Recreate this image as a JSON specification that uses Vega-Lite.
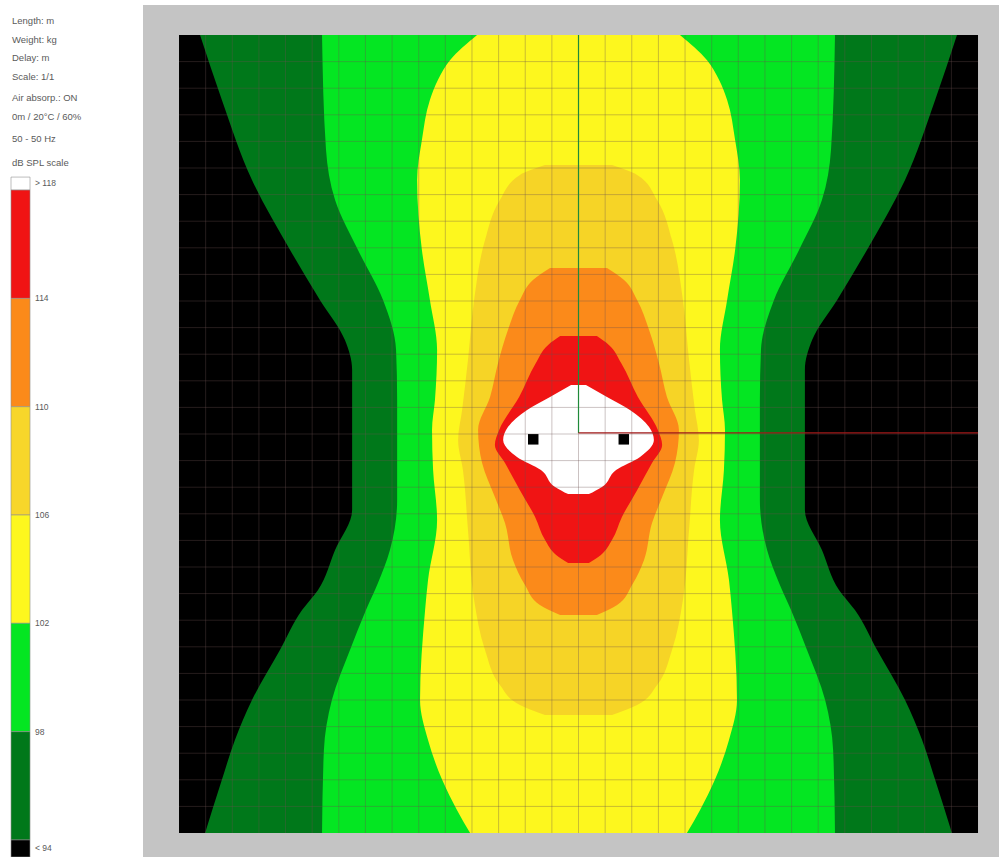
{
  "$schema": "https://vega.github.io/schema/vega-lite/v6.json",
  "padding": 0,
  "background": "#ffffff",
  "spacing": 0,
  "config": {"view": {"stroke": null}, "axis": {"disable": true}, "concat": {"spacing": 0}},
  "datasets": {
    "bands": [
      {"level": "g94", "y": 0, "xl": 0.79, "xr": 29.21},
      {"level": "g94", "y": 2.44, "xl": 1.61, "xr": 28.39},
      {"level": "g94", "y": 5.45, "xl": 2.74, "xr": 27.26},
      {"level": "g94", "y": 8.08, "xl": 4.17, "xr": 25.83},
      {"level": "g94", "y": 9.96, "xl": 5.29, "xr": 24.71},
      {"level": "g94", "y": 11.47, "xl": 6.23, "xr": 23.77},
      {"level": "g94", "y": 12.59, "xl": 6.5, "xr": 23.5},
      {"level": "g94", "y": 17.86, "xl": 6.5, "xr": 23.5},
      {"level": "g94", "y": 19.36, "xl": 5.86, "xr": 24.14},
      {"level": "g94", "y": 20.86, "xl": 5.22, "xr": 24.78},
      {"level": "g94", "y": 21.62, "xl": 4.62, "xr": 25.38},
      {"level": "g94", "y": 23.12, "xl": 3.79, "xr": 26.21},
      {"level": "g94", "y": 25.0, "xl": 2.74, "xr": 27.26},
      {"level": "g94", "y": 26.5, "xl": 2.1, "xr": 27.9},
      {"level": "g94", "y": 28.0, "xl": 1.61, "xr": 28.39},
      {"level": "g94", "y": 30, "xl": 0.98, "xr": 29.02},

      {"level": "g98", "y": 0, "xl": 5.37, "xr": 24.63},
      {"level": "g98", "y": 4.32, "xl": 5.52, "xr": 24.48},
      {"level": "g98", "y": 6.2, "xl": 5.86, "xr": 24.14},
      {"level": "g98", "y": 8.08, "xl": 6.72, "xr": 23.28},
      {"level": "g98", "y": 9.96, "xl": 7.66, "xr": 22.34},
      {"level": "g98", "y": 11.84, "xl": 8.15, "xr": 21.85},
      {"level": "g98", "y": 13.72, "xl": 8.19, "xr": 21.81},
      {"level": "g98", "y": 17.48, "xl": 8.19, "xr": 21.81},
      {"level": "g98", "y": 19.36, "xl": 7.92, "xr": 22.08},
      {"level": "g98", "y": 20.6, "xl": 7.47, "xr": 22.53},
      {"level": "g98", "y": 21.62, "xl": 7.02, "xr": 22.98},
      {"level": "g98", "y": 23.12, "xl": 6.42, "xr": 23.58},
      {"level": "g98", "y": 25.0, "xl": 5.74, "xr": 24.26},
      {"level": "g98", "y": 26.88, "xl": 5.44, "xr": 24.56},
      {"level": "g98", "y": 30, "xl": 5.37, "xr": 24.63},

      {"level": "g102", "y": 0, "xl": 11.19, "xr": 18.81},
      {"level": "g102", "y": 0.94, "xl": 10.18, "xr": 19.82},
      {"level": "g102", "y": 1.69, "xl": 9.72, "xr": 20.28},
      {"level": "g102", "y": 2.44, "xl": 9.42, "xr": 20.58},
      {"level": "g102", "y": 3.95, "xl": 9.12, "xr": 20.88},
      {"level": "g102", "y": 5.45, "xl": 8.94, "xr": 21.06},
      {"level": "g102", "y": 8.08, "xl": 9.12, "xr": 20.88},
      {"level": "g102", "y": 9.96, "xl": 9.42, "xr": 20.58},
      {"level": "g102", "y": 11.84, "xl": 9.69, "xr": 20.31},
      {"level": "g102", "y": 13.72, "xl": 9.61, "xr": 20.39},
      {"level": "g102", "y": 14.85, "xl": 9.5, "xr": 20.5},
      {"level": "g102", "y": 16.35, "xl": 9.54, "xr": 20.46},
      {"level": "g102", "y": 18.23, "xl": 9.69, "xr": 20.31},
      {"level": "g102", "y": 20.49, "xl": 9.35, "xr": 20.65},
      {"level": "g102", "y": 21.62, "xl": 9.24, "xr": 20.76},
      {"level": "g102", "y": 25.0, "xl": 9.05, "xr": 20.95},
      {"level": "g102", "y": 26.5, "xl": 9.35, "xr": 20.65},
      {"level": "g102", "y": 28.0, "xl": 9.88, "xr": 20.12},
      {"level": "g102", "y": 29.14, "xl": 10.44, "xr": 19.56},
      {"level": "g102", "y": 30, "xl": 10.93, "xr": 19.07},

      {"level": "g106", "y": 4.89, "xl": 13.74, "xr": 16.26},
      {"level": "g106", "y": 5.26, "xl": 12.8, "xr": 17.2},
      {"level": "g106", "y": 6.2, "xl": 12.05, "xr": 17.95},
      {"level": "g106", "y": 7.71, "xl": 11.49, "xr": 18.51},
      {"level": "g106", "y": 9.96, "xl": 11.08, "xr": 18.92},
      {"level": "g106", "y": 12.22, "xl": 10.85, "xr": 19.15},
      {"level": "g106", "y": 14.1, "xl": 10.63, "xr": 19.37},
      {"level": "g106", "y": 15.23, "xl": 10.48, "xr": 19.52},
      {"level": "g106", "y": 16.35, "xl": 10.66, "xr": 19.34},
      {"level": "g106", "y": 18.61, "xl": 10.85, "xr": 19.15},
      {"level": "g106", "y": 21.24, "xl": 11.08, "xr": 18.92},
      {"level": "g106", "y": 23.12, "xl": 11.49, "xr": 18.51},
      {"level": "g106", "y": 24.44, "xl": 12.05, "xr": 17.95},
      {"level": "g106", "y": 25.19, "xl": 12.8, "xr": 17.2},
      {"level": "g106", "y": 25.56, "xl": 13.74, "xr": 16.26},

      {"level": "g110", "y": 8.76, "xl": 13.93, "xr": 16.07},
      {"level": "g110", "y": 9.21, "xl": 13.29, "xr": 16.71},
      {"level": "g110", "y": 9.96, "xl": 12.8, "xr": 17.2},
      {"level": "g110", "y": 11.09, "xl": 12.35, "xr": 17.65},
      {"level": "g110", "y": 12.33, "xl": 11.98, "xr": 18.02},
      {"level": "g110", "y": 13.61, "xl": 11.68, "xr": 18.32},
      {"level": "g110", "y": 14.85, "xl": 11.23, "xr": 18.77},
      {"level": "g110", "y": 16.09, "xl": 11.38, "xr": 18.62},
      {"level": "g110", "y": 17.37, "xl": 11.86, "xr": 18.14},
      {"level": "g110", "y": 18.35, "xl": 12.24, "xr": 17.76},
      {"level": "g110", "y": 19.74, "xl": 12.54, "xr": 17.46},
      {"level": "g110", "y": 20.68, "xl": 12.99, "xr": 17.01},
      {"level": "g110", "y": 21.43, "xl": 13.55, "xr": 16.45},
      {"level": "g110", "y": 21.8, "xl": 14.31, "xr": 15.69},

      {"level": "g114", "y": 11.32, "xl": 14.31, "xr": 15.69},
      {"level": "g114", "y": 11.65, "xl": 13.86, "xr": 16.14},
      {"level": "g114", "y": 12.33, "xl": 13.4, "xr": 16.6},
      {"level": "g114", "y": 13.61, "xl": 12.77, "xr": 17.23},
      {"level": "g114", "y": 14.85, "xl": 12.02, "xr": 17.98},
      {"level": "g114", "y": 15.41, "xl": 11.86, "xr": 18.14},
      {"level": "g114", "y": 16.09, "xl": 12.24, "xr": 17.76},
      {"level": "g114", "y": 17.11, "xl": 12.8, "xr": 17.2},
      {"level": "g114", "y": 18.12, "xl": 13.37, "xr": 16.63},
      {"level": "g114", "y": 18.98, "xl": 13.74, "xr": 16.26},
      {"level": "g114", "y": 19.55, "xl": 14.16, "xr": 15.84},
      {"level": "g114", "y": 19.85, "xl": 14.61, "xr": 15.39},

      {"level": "g118", "y": 13.16, "xl": 14.72, "xr": 15.28},
      {"level": "g118", "y": 13.61, "xl": 13.93, "xr": 16.07},
      {"level": "g118", "y": 14.1, "xl": 13.07, "xr": 16.93},
      {"level": "g118", "y": 14.74, "xl": 12.35, "xr": 17.65},
      {"level": "g118", "y": 15.23, "xl": 12.17, "xr": 17.83},
      {"level": "g118", "y": 15.86, "xl": 12.69, "xr": 17.31},
      {"level": "g118", "y": 16.35, "xl": 13.59, "xr": 16.41},
      {"level": "g118", "y": 16.99, "xl": 14.12, "xr": 15.88},
      {"level": "g118", "y": 17.26, "xl": 14.61, "xr": 15.39}
    ],
    "grid": [
      {"v": 1}, {"v": 2}, {"v": 3}, {"v": 4}, {"v": 5}, {"v": 6}, {"v": 7}, {"v": 8}, {"v": 9}, {"v": 10},
      {"v": 11}, {"v": 12}, {"v": 13}, {"v": 14}, {"v": 15}, {"v": 16}, {"v": 17}, {"v": 18}, {"v": 19}, {"v": 20},
      {"v": 21}, {"v": 22}, {"v": 23}, {"v": 24}, {"v": 25}, {"v": 26}, {"v": 27}, {"v": 28}, {"v": 29}
    ],
    "sources": [{"x": 13.3, "y": 15.2}, {"x": 16.7, "y": 15.2}],
    "scaleBands": [
      {"band": "g118", "lo": 118, "hi": 118.48},
      {"band": "g114", "lo": 114, "hi": 118},
      {"band": "g110", "lo": 110, "hi": 114},
      {"band": "g106", "lo": 106, "hi": 110},
      {"band": "g102", "lo": 102, "hi": 106},
      {"band": "g98", "lo": 98, "hi": 102},
      {"band": "g94", "lo": 94, "hi": 98},
      {"band": "g0", "lo": 93.37, "hi": 94}
    ],
    "scaleLabels": [
      {"t": "> 118", "db": 118.26},
      {"t": "114", "db": 114},
      {"t": "110", "db": 110},
      {"t": "106", "db": 106},
      {"t": "102", "db": 102},
      {"t": "98", "db": 98},
      {"t": "< 94", "db": 93.71}
    ],
    "info": [
      {"t": "Length: m", "line": 1.17},
      {"t": "Weight: kg", "line": 2.22},
      {"t": "Delay: m", "line": 3.22},
      {"t": "Scale: 1/1", "line": 4.28},
      {"t": "Air absorp.: ON", "line": 5.44},
      {"t": "0m / 20°C / 60%", "line": 6.5},
      {"t": "50 - 50 Hz", "line": 7.72},
      {"t": "dB SPL scale", "line": 9.06}
    ]
  },
  "hconcat": [
    {
      "width": 143,
      "height": 857,
      "resolve": {"scale": {"y": "independent"}},
      "layer": [
        {
          "data": {"name": "scaleBands"},
          "mark": {"type": "rect", "stroke": "#909090", "strokeWidth": 0.6},
          "encoding": {
            "x": {"datum": 7.7, "type": "quantitative", "scale": {"domain": [0, 100], "nice": false, "zero": false}},
            "x2": {"datum": 21},
            "y": {"field": "lo", "type": "quantitative", "scale": {"domain": [93.37, 125.02], "nice": false, "zero": false}},
            "y2": {"field": "hi"},
            "color": {"field": "band", "type": "nominal", "legend": null,
              "scale": {"domain": ["g118", "g114", "g110", "g106", "g102", "g98", "g94", "g0"],
                        "range": ["#ffffff", "#f01414", "#fb8a1a", "#f7d62a", "#fdf71e", "#04e622", "#00781a", "#000000"]}}
          }
        },
        {
          "data": {"name": "scaleLabels"},
          "mark": {"type": "text", "align": "left", "baseline": "middle", "font": "Liberation Sans", "fontSize": 8.5, "color": "#5a5a5a"},
          "encoding": {
            "x": {"datum": 24.5, "type": "quantitative"},
            "y": {"field": "db", "type": "quantitative", "scale": {"domain": [93.37, 125.02], "nice": false, "zero": false}},
            "text": {"field": "t"}
          }
        },
        {
          "data": {"name": "info"},
          "mark": {"type": "text", "align": "left", "baseline": "middle", "font": "Liberation Sans", "fontSize": 9.5, "color": "#5a5a5a"},
          "encoding": {
            "x": {"datum": 8.4, "type": "quantitative"},
            "y": {"field": "line", "type": "quantitative", "scale": {"domain": [0, 47.61], "reverse": true, "nice": false, "zero": false}},
            "text": {"field": "t"}
          }
        }
      ]
    },
    {
      "width": 856,
      "height": 857,
      "layer": [
        {
          "data": {"values": [{"part": "frame"}]},
          "mark": {"type": "rect", "color": "#c4c4c4"},
          "encoding": {
            "x": {"datum": -1.352, "type": "quantitative", "scale": {"domain": [-1.352, 30.788], "nice": false, "zero": false}},
            "x2": {"datum": 30.788},
            "y": {"datum": -1.128, "type": "quantitative", "scale": {"domain": [-1.316, 30.902], "reverse": true, "nice": false, "zero": false}},
            "y2": {"datum": 30.902}
          }
        },
        {
          "data": {"values": [{"part": "plot"}]},
          "mark": {"type": "rect", "color": "#000000"},
          "encoding": {
            "x": {"datum": 0, "type": "quantitative"},
            "x2": {"datum": 30},
            "y": {"datum": 0, "type": "quantitative"},
            "y2": {"datum": 30}
          }
        },
        {
          "data": {"name": "bands"},
          "transform": [{"filter": "datum.level == 'g94'"}],
          "mark": {"type": "area", "orient": "horizontal", "color": "#00781a", "opacity": 1, "interpolate": "monotone"},
          "encoding": {"y": {"field": "y", "type": "quantitative"}, "x": {"field": "xl", "type": "quantitative"}, "x2": {"field": "xr"}}
        },
        {
          "data": {"name": "bands"},
          "transform": [{"filter": "datum.level == 'g98'"}],
          "mark": {"type": "area", "orient": "horizontal", "color": "#04e622", "opacity": 1, "interpolate": "monotone"},
          "encoding": {"y": {"field": "y", "type": "quantitative"}, "x": {"field": "xl", "type": "quantitative"}, "x2": {"field": "xr"}}
        },
        {
          "data": {"name": "bands"},
          "transform": [{"filter": "datum.level == 'g102'"}],
          "mark": {"type": "area", "orient": "horizontal", "color": "#fdf71e", "opacity": 1, "interpolate": "monotone"},
          "encoding": {"y": {"field": "y", "type": "quantitative"}, "x": {"field": "xl", "type": "quantitative"}, "x2": {"field": "xr"}}
        },
        {
          "data": {"name": "bands"},
          "transform": [{"filter": "datum.level == 'g106'"}],
          "mark": {"type": "area", "orient": "horizontal", "color": "#f6d426", "opacity": 1, "interpolate": "monotone"},
          "encoding": {"y": {"field": "y", "type": "quantitative"}, "x": {"field": "xl", "type": "quantitative"}, "x2": {"field": "xr"}}
        },
        {
          "data": {"name": "bands"},
          "transform": [{"filter": "datum.level == 'g110'"}],
          "mark": {"type": "area", "orient": "horizontal", "color": "#fb8a1a", "opacity": 1, "interpolate": "monotone"},
          "encoding": {"y": {"field": "y", "type": "quantitative"}, "x": {"field": "xl", "type": "quantitative"}, "x2": {"field": "xr"}}
        },
        {
          "data": {"name": "bands"},
          "transform": [{"filter": "datum.level == 'g114'"}],
          "mark": {"type": "area", "orient": "horizontal", "color": "#f01414", "opacity": 1, "interpolate": "monotone"},
          "encoding": {"y": {"field": "y", "type": "quantitative"}, "x": {"field": "xl", "type": "quantitative"}, "x2": {"field": "xr"}}
        },
        {
          "data": {"name": "bands"},
          "transform": [{"filter": "datum.level == 'g118'"}],
          "mark": {"type": "area", "orient": "horizontal", "color": "#ffffff", "opacity": 1, "interpolate": "monotone"},
          "encoding": {"y": {"field": "y", "type": "quantitative"}, "x": {"field": "xl", "type": "quantitative"}, "x2": {"field": "xr"}}
        },
        {
          "data": {"name": "grid"},
          "mark": {"type": "rule", "color": "#6a5050", "opacity": 0.35, "strokeWidth": 1},
          "encoding": {"x": {"field": "v", "type": "quantitative"}, "y": {"datum": 0, "type": "quantitative"}, "y2": {"datum": 30}}
        },
        {
          "data": {"name": "grid"},
          "mark": {"type": "rule", "color": "#6a5050", "opacity": 0.35, "strokeWidth": 1},
          "encoding": {"y": {"field": "v", "type": "quantitative"}, "x": {"datum": 0, "type": "quantitative"}, "x2": {"datum": 30}}
        },
        {
          "data": {"values": [{"axis": "vertical"}]},
          "mark": {"type": "rule", "color": "#1f8a3a", "strokeWidth": 1.2},
          "encoding": {"x": {"datum": 15, "type": "quantitative"}, "y": {"datum": 0, "type": "quantitative"}, "y2": {"datum": 14.96}}
        },
        {
          "data": {"values": [{"axis": "horizontal"}]},
          "mark": {"type": "rule", "color": "#a01818", "strokeWidth": 1.2},
          "encoding": {"y": {"datum": 14.96, "type": "quantitative"}, "x": {"datum": 15, "type": "quantitative"}, "x2": {"datum": 30}}
        },
        {
          "data": {"name": "sources"},
          "mark": {"type": "square", "filled": true, "color": "#000000", "opacity": 1, "size": 110},
          "encoding": {"x": {"field": "x", "type": "quantitative"}, "y": {"field": "y", "type": "quantitative"}}
        }
      ]
    }
  ]
}
